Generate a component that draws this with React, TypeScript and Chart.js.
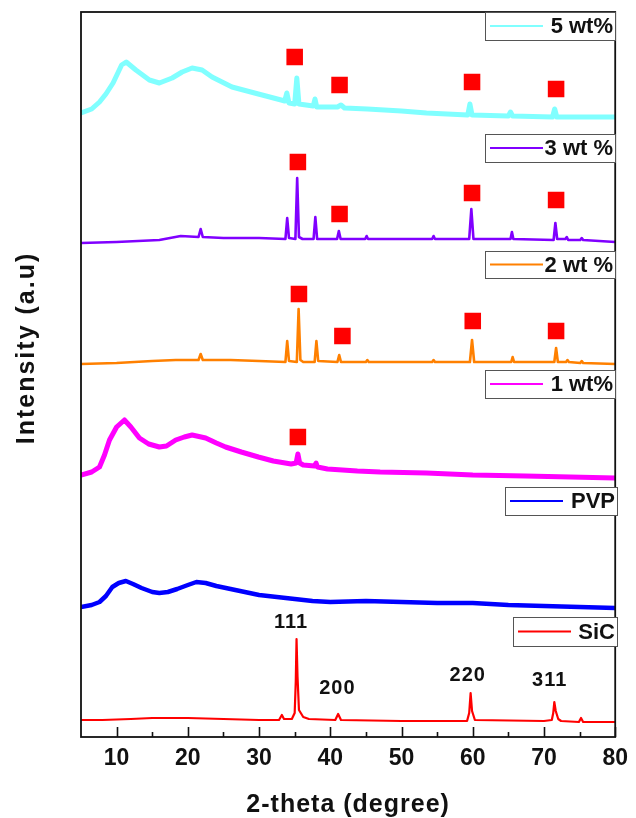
import React, { useEffect, useRef } from 'react';
import { Chart, registerables } from 'chart.js';

Chart.register(...registerables);

// ---- Data (2-theta in degrees, intensity in arbitrary units, stacked) ----
const xTickValues = [10, 20, 30, 40, 50, 60, 70, 80];
const xMinorTickValues = [15, 25, 35, 45, 55, 65, 75];

const seriesLabels = ['5 wt%', '3 wt %', '2 wt %', '1 wt%', 'PVP', 'SiC'];
const seriesColors = ['#80ffff', '#8000ff', '#ff8000', '#ff00ff', '#0000ff', '#ff0000'];

const wt5: [number, number][] = [
  [5, 624], [6.5, 628], [7.6, 635], [8.5, 643], [9.5, 654], [10.7, 672], [11.35, 675], [12.7, 667],
  [14.6, 657], [16, 654], [17.8, 659], [19.2, 665], [20.6, 669], [22, 667], [23.4, 660], [26.2, 650],
  [29.9, 643], [33.1, 637], [33.6, 636], [33.9, 644], [34.2, 634], [35.0, 633], [35.3, 659], [35.6, 633],
  [37.6, 631], [37.85, 638], [38.1, 630], [41, 630], [41.5, 632], [42, 629], [45.2, 628], [50, 626],
  [53.5, 624], [59.3, 622], [59.6, 633], [59.9, 622], [65, 621], [65.3, 625], [65.6, 621], [71.2, 620],
  [71.5, 628], [71.8, 620], [75, 620], [80, 620],
];

const wt3: [number, number][] = [
  [5, 494], [10, 495], [16, 497], [19, 501], [21.5, 500], [21.8, 508], [22.1, 500], [25, 499], [30, 499],
  [33.7, 498], [33.95, 519], [34.2, 499], [35.1, 498], [35.35, 559], [35.6, 500], [36.1, 498], [37.65, 498],
  [37.9, 520], [38.15, 498], [40.95, 498], [41.2, 506], [41.45, 498], [44.9, 498], [45.1, 501], [45.3, 498],
  [54.3, 498], [54.5, 501], [54.7, 498], [59.5, 498], [59.8, 528], [60.1, 498], [65.3, 498], [65.5, 505],
  [65.7, 498], [71.35, 497], [71.6, 514], [71.85, 498], [73.0, 498], [73.2, 500], [73.4, 497], [75.1, 497],
  [75.3, 499], [75.5, 497], [80, 495],
];

const wt2: [number, number][] = [
  [5, 373], [10, 374], [15, 376], [18.3, 377], [21.5, 377], [21.8, 383], [22.1, 377], [26, 377], [30, 376],
  [33.7, 375], [33.95, 396], [34.2, 376], [35.3, 375], [35.55, 428], [35.8, 377], [36.2, 375], [37.8, 375],
  [38.05, 396], [38.3, 376], [41.0, 375], [41.25, 382], [41.5, 375], [45.0, 375], [45.2, 377], [45.4, 375],
  [54.3, 375], [54.5, 377], [54.7, 375], [59.6, 375], [59.9, 397], [60.2, 375], [65.4, 375], [65.6, 380],
  [65.8, 375], [71.45, 375], [71.7, 389], [71.95, 375], [73.1, 375], [73.3, 377], [73.5, 375], [75.1, 374],
  [75.3, 376], [75.5, 374], [80, 373],
];

const wt1: [number, number][] = [
  [5, 262], [6.5, 265], [7.6, 270], [8.3, 282], [9.0, 297], [10, 310], [11.1, 317], [12, 310], [13.2, 299],
  [14.5, 293], [16, 290], [17, 291], [18.3, 297], [19.5, 300], [20.6, 302], [22.5, 299], [24, 294],
  [25.3, 290], [27.5, 285], [29.9, 280], [32, 276], [34.5, 273], [35.2, 274], [35.45, 283], [35.7, 274],
  [36.2, 272], [37.8, 271], [38.0, 274], [38.2, 270], [39.6, 268], [43.8, 266], [47, 265], [53.5, 264],
  [60, 262], [67.4, 261], [80, 259],
];

const pvp: [number, number][] = [
  [5, 130], [6.5, 132], [7.6, 135], [8.5, 141], [9.4, 150], [10.3, 154], [11.3, 156], [12.3, 153],
  [13.5, 149], [15, 145], [16, 144], [17.2, 145], [18.5, 148], [20, 152], [21.2, 155], [22.5, 154],
  [24, 151], [26, 148], [28, 145], [30, 142], [32.5, 140], [35, 138], [37.5, 136], [40, 135], [45, 136],
  [50, 135], [55, 134], [60, 134], [65, 132], [70, 131], [75, 130], [80, 129],
];

const sic: [number, number][] = [
  [5, 17], [8, 17], [12, 18], [15, 19], [20, 19], [25, 18], [30, 17], [32.8, 17], [33.2, 22], [33.5, 18],
  [34.6, 18], [35.0, 24], [35.15, 55], [35.26, 98], [35.4, 60], [35.6, 27], [36.2, 20], [37, 18],
  [40.7, 17], [41.1, 23], [41.5, 17], [50, 16], [59.2, 16], [59.5, 24], [59.7, 44], [59.9, 26], [60.3, 17],
  [70, 16], [71.1, 17], [71.3, 24], [71.45, 35], [71.65, 26], [72.0, 18], [72.4, 16], [74.9, 15],
  [75.2, 19], [75.5, 15], [80, 15],
];

// red square markers (SiC reflections) in the composite patterns
const squareMarks: [number, number][] = [
  [35.0, 680], [41.3, 652], [59.9, 655], [71.7, 648],
  [35.45, 575], [41.3, 523], [59.9, 544], [71.7, 537],
  [35.6, 443], [41.7, 401], [60.0, 416], [71.7, 406],
  [35.45, 300],
];

// Miller index labels of SiC
const peakLabels = ['111', '200', '220', '311'];
const peakLabelX = [34.5, 41.0, 59.3, 70.8];
const peakLabelY = [115, 49, 62, 57];

const seriesData = [wt5, wt3, wt2, wt1, pvp, sic];
const seriesWidths = [5, 2.6, 2.6, 5, 4.5, 2.2];

// legend box layout (pixels)
const legendLayout = [
  { left: 485, top: 12, right: 615, bottom: 40 },
  { left: 485, top: 134, right: 615, bottom: 162 },
  { left: 485, top: 251, right: 615, bottom: 278 },
  { left: 485, top: 370, right: 615, bottom: 398 },
  { left: 505, top: 487, right: 617, bottom: 515 },
  { left: 513, top: 617, right: 617, bottom: 646 },
];

const FONT = '"Liberation Sans", Arial, Helvetica, sans-serif';

const decorPlugin = {
  id: 'decor',
  afterDatasetsDraw(chart: any) {
    const { ctx, chartArea: a, scales } = chart;
    const xs = scales.x;
    const ys = scales.y;
    ctx.save();
    // frame
    ctx.strokeStyle = '#111';
    ctx.lineWidth = 1.8;
    ctx.strokeRect(a.left, a.top, a.right - a.left, a.bottom - a.top);
    // inward ticks
    ctx.lineWidth = 1.6;
    ctx.beginPath();
    xTickValues.forEach((v) => {
      const px = Math.round(xs.getPixelForValue(v)) + 0.5;
      ctx.moveTo(px, a.bottom);
      ctx.lineTo(px, a.bottom - 10);
    });
    xMinorTickValues.forEach((v) => {
      const px = Math.round(xs.getPixelForValue(v)) + 0.5;
      ctx.moveTo(px, a.bottom);
      ctx.lineTo(px, a.bottom - 5);
    });
    ctx.stroke();

    // peak labels
    ctx.fillStyle = '#111';
    ctx.font = `bold 20px ${FONT}`;
    ctx.textAlign = 'center';
    ctx.textBaseline = 'middle';
    (ctx as any).letterSpacing = '1px';
    peakLabels.forEach((t, i) => {
      ctx.fillText(t, xs.getPixelForValue(peakLabelX[i]), ys.getPixelForValue(peakLabelY[i]));
    });
    (ctx as any).letterSpacing = '0px';

    // legends
    legendLayout.forEach((b, i) => {
      ctx.fillStyle = '#fff';
      ctx.fillRect(b.left, b.top, b.right - b.left, b.bottom - b.top);
      ctx.strokeStyle = '#555';
      ctx.lineWidth = 1;
      ctx.strokeRect(b.left + 0.5, b.top + 0.5, b.right - b.left, b.bottom - b.top);
      const cy = (b.top + b.bottom) / 2;
      ctx.strokeStyle = seriesColors[i];
      ctx.lineWidth = 2.2;
      ctx.beginPath();
      ctx.moveTo(b.left + 5, cy);
      ctx.lineTo(b.left + 58, cy);
      ctx.stroke();
      ctx.fillStyle = '#111';
      ctx.font = `bold 22px ${FONT}`;
      ctx.textAlign = 'right';
      ctx.textBaseline = 'middle';
      ctx.fillText(seriesLabels[i], b.right - 2, cy + 1);
    });

    // axis titles
    ctx.fillStyle = '#111';
    ctx.font = `bold 25px ${FONT}`;
    ctx.textAlign = 'center';
    ctx.textBaseline = 'middle';
    (ctx as any).letterSpacing = '1px';
    ctx.fillText('2-theta (degree)', (a.left + a.right) / 2, 805);
    ctx.save();
    ctx.translate(27, 348);
    ctx.rotate(-Math.PI / 2);
    (ctx as any).letterSpacing = '2px';
    ctx.fillText('Intensity (a.u)', 0, 0);
    ctx.restore();
    ctx.restore();
  },
};

export default function App() {
  const ref = useRef<HTMLCanvasElement | null>(null);
  useEffect(() => {
    if (!ref.current) return;
    const datasets: any[] = [
      {
        label: 'SiC marks',
        data: squareMarks.map(([x, y]) => ({ x, y })),
        showLine: false,
        pointStyle: 'rect',
        pointRadius: 11.7,
        pointBackgroundColor: '#ff0000',
        pointBorderWidth: 0,
        borderWidth: 0,
      },
      ...seriesData.map((d, i) => ({
        label: seriesLabels[i],
        data: d.map(([x, y]) => ({ x, y })),
        showLine: true,
        borderColor: seriesColors[i],
        borderWidth: seriesWidths[i],
        pointRadius: 0,
        tension: 0,
        borderJoinStyle: 'round',
      })),
    ];
    const chart = new Chart(ref.current, {
      type: 'scatter',
      data: { datasets },
      options: {
        animation: false,
        responsive: false,
        devicePixelRatio: 1,
        layout: { padding: { top: 12, right: 16, left: 0, bottom: 0 } },
        plugins: { legend: { display: false }, tooltip: { enabled: false } },
        scales: {
          x: {
            type: 'linear',
            min: 5,
            max: 80,
            afterBuildTicks: (s: any) => {
              s.ticks = xTickValues.map((v) => ({ value: v }));
            },
            afterFit: (s: any) => {
              s.height = 81;
            },
            grid: { display: false, drawTicks: false },
            border: { display: false },
            ticks: {
              color: '#111',
              padding: 8,
              maxRotation: 0,
              autoSkip: false,
              font: { family: FONT, size: 23, weight: 'bold' },
            },
          },
          y: {
            type: 'linear',
            min: 0,
            max: 725,
            afterFit: (s: any) => {
              s.width = 81;
            },
            grid: { display: false },
            border: { display: false },
            ticks: { display: false },
          },
        },
      },
      plugins: [decorPlugin],
    } as any);
    return () => chart.destroy();
  }, []);
  return (
    <div style={{ position: 'absolute', left: 0, top: 0, width: 636, height: 818, background: '#fff' }}>
      <canvas ref={ref} width={636} height={818} style={{ display: 'block' }} />
    </div>
  );
}
